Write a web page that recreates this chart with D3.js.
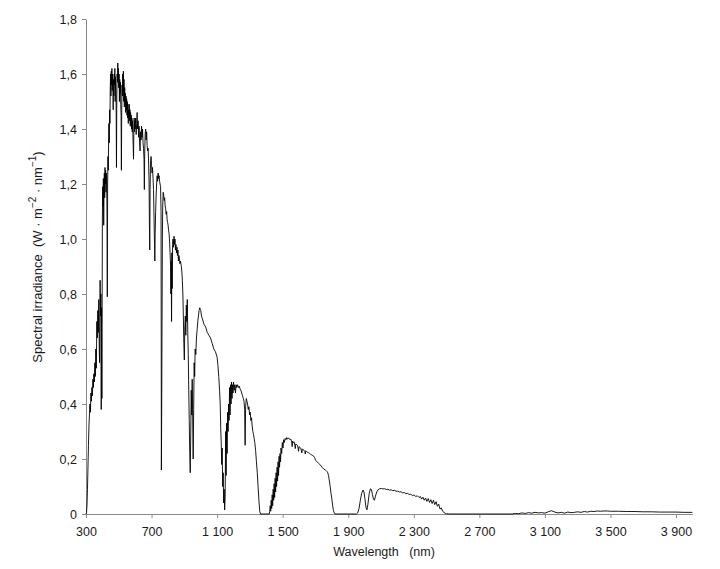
<!DOCTYPE html>
<html>
<head>
<meta charset="utf-8">
<script src="https://cdn.jsdelivr.net/npm/d3@7"></script>
<style>
  html, body { margin: 0; padding: 0; background: #fff; }
  svg { display: block; font-family: "Liberation Sans", Arial, sans-serif; }
</style>
</head>
<body>
<svg id="chart" width="720" height="569"></svg>
<script>
// ---- data ----
const xTicks = [300, 700, 1100, 1500, 1900, 2300, 2700, 3100, 3500, 3900];
const yTicks = [0, 0.2, 0.4, 0.6, 0.8, 1.0, 1.2, 1.4, 1.6, 1.8];
const xDomain = [300, 4000];
const yDomain = [0, 1.8];
const xTitle = "Wavelength   (nm)";

// UV + visible band [wavelength nm, irradiance W·m-2·nm-1]
const spectrumVisible = [
  [300,0],[303,0.005],[306,0.03],[309,0.09],[312,0.17],[315,0.25],[318,0.32],[321,0.36],[324,0.40],[327,0.37],
  [330,0.44],[333,0.41],[336,0.46],[339,0.43],[342,0.49],[345,0.46],[348,0.51],[351,0.48],[354,0.55],[357,0.50],
  [360,0.60],[363,0.53],[366,0.70],[369,0.64],[372,0.74],[375,0.66],[378,0.78],[381,0.60],[383,0.55],[386,0.85],
  [389,0.72],[391,0.80],[393,0.38],[395,0.75],[397,0.42],[400,1.08],[402,1.19],[404,1.12],[406,1.22],[408,1.05],
  [410,1.18],[412,1.24],[414,1.15],[416,1.26],[418,1.20],[420,1.25],[422,1.17],[424,1.24],[426,1.20],[428,1.12],
  [430,0.79],[432,1.20],[434,1.30],[436,1.25],[438,1.36],[440,1.42],[442,1.35],[444,1.47],[446,1.42],[448,1.55],
  [450,1.60],[452,1.52],[454,1.61],[456,1.56],[458,1.62],[460,1.54],[462,1.60],[464,1.55],[466,1.47],[468,1.58],
  [470,1.52],[472,1.60],[474,1.56],[476,1.62],[478,1.50],[480,1.59],[482,1.54],[484,1.48],[486,1.26],[488,1.52],
  [490,1.60],[492,1.57],[494,1.64],[496,1.58],[498,1.62],[500,1.55],[502,1.60],[504,1.50],[506,1.58],[508,1.53],
  [510,1.57],[512,1.49],[514,1.45],[516,1.25],[518,1.47],[520,1.56],[522,1.52],[524,1.60],[526,1.54],[528,1.61],
  [530,1.50],[532,1.58],[534,1.48],[536,1.55],[538,1.50],[540,1.53],[542,1.46],[544,1.52],[546,1.47],[548,1.51],
  [550,1.45],[552,1.50],[554,1.44],[556,1.49],[558,1.42],[560,1.47],[562,1.44],[564,1.49],[566,1.43],[568,1.47],
  [570,1.41],[572,1.46],[574,1.42],[576,1.45],[578,1.40],[580,1.44],[582,1.39],[584,1.43],[586,1.38],[588,1.34],
  [590,1.29],[592,1.40],[594,1.44],[596,1.39],[598,1.43],[600,1.40],[603,1.44],[606,1.38],[609,1.42],[612,1.46],
  [615,1.40],[618,1.43],[621,1.37],[624,1.41],[627,1.35],[630,1.32],[633,1.39],[636,1.36],[639,1.41],[642,1.37],
  [645,1.40],[648,1.35],[651,1.33],[654,1.29],[656,1.18],[658,1.31],[661,1.38],[664,1.40],[667,1.36],[670,1.39],
  [673,1.34],[676,1.32],[679,1.33],[682,1.28],[685,1.20],[687,1.05],[689,0.96],[691,1.18],[694,1.28],[697,1.30],
  [700,1.27],[703,1.24],[706,1.26],[709,1.22],[712,1.18],[715,1.08],[718,0.98],[720,0.92],[722,1.02],[725,1.10],
  [728,1.16],[731,1.20],[734,1.23],[737,1.21],[740,1.24],[743,1.22],[746,1.23],[749,1.21],[752,1.20],[755,1.19],
  [758,1.10],[760,0.16],[762,0.40],[764,0.70],[766,1.00],[768,1.12],[771,1.17],[774,1.16],[777,1.14],[780,1.15],
  [783,1.12],[786,1.11],[789,1.09],[792,1.10],[795,1.07],[798,1.06],[801,1.05],[804,1.03],[807,1.02],[810,0.99],
  [813,0.95],[816,0.90],[818,0.80],[820,0.92],[822,0.70],[824,0.95],[826,0.82],[828,0.98],[831,1.00],[834,0.97],
  [837,1.01],[840,0.98],[843,1.00],[846,0.96],[849,0.98],[852,0.95],[855,0.97],[858,0.94],[861,0.96],[864,0.92],
  [867,0.94],[870,0.93],[873,0.91],[876,0.92],[879,0.91],[882,0.90],[885,0.88],[888,0.85],[891,0.80],[894,0.72],
  [897,0.62],[900,0.56],[903,0.68],[906,0.72],[909,0.65],[912,0.76],[915,0.70],[918,0.78],[921,0.66],[924,0.58],
  [927,0.45],[930,0.34],[933,0.22],[936,0.15],[939,0.28],[942,0.45],[945,0.36],[948,0.49],[951,0.35],[954,0.20],
  [957,0.38],[960,0.55],[963,0.50],[966,0.60],[970,0.58],[974,0.64],[978,0.67],[982,0.70],[986,0.72],[990,0.74],
  [994,0.75],[997,0.745]
];

// near infrared band
const spectrumNearIR = [
  [1000,0.74],[1005,0.72],[1010,0.71],[1020,0.69],[1030,0.68],[1040,0.66],[1050,0.65],[1060,0.64],[1070,0.62],
  [1080,0.60],[1090,0.59],[1100,0.57],[1105,0.54],[1110,0.50],[1115,0.45],[1119,0.40],[1122,0.31],[1125,0.26],
  [1128,0.18],[1131,0.24],[1134,0.10],[1137,0.15],[1140,0.04],[1143,0.09],[1146,0.015],[1149,0.06],[1152,0.30],
  [1155,0.14],[1158,0.33],[1161,0.22],[1164,0.37],[1167,0.30],[1170,0.40],[1173,0.34],[1176,0.46],[1179,0.36],
  [1182,0.47],[1185,0.40],[1188,0.48],[1191,0.42],[1194,0.47],[1197,0.44],[1200,0.48],[1204,0.45],[1208,0.47],
  [1212,0.44],[1216,0.47],[1220,0.46],[1225,0.47],[1230,0.46],[1235,0.465],[1240,0.455],[1245,0.45],[1250,0.44],
  [1255,0.43],[1260,0.42],[1264,0.41],[1268,0.38],[1271,0.25],[1274,0.39],[1278,0.42],[1282,0.41],[1286,0.40],
  [1290,0.38],[1294,0.39],[1298,0.36],[1302,0.37],[1306,0.34],[1310,0.35],[1314,0.32],[1318,0.30],[1322,0.29],
  [1326,0.275],[1330,0.26],[1335,0.23],[1340,0.19],[1345,0.15],[1350,0.10],[1355,0.05],[1360,0.01],[1365,0],
  [1418,0],[1421,0.01],[1424,0.03],[1427,0.01],[1430,0.05],[1433,0.02],[1436,0.07],[1439,0.03],[1442,0.09],
  [1445,0.05],[1448,0.11],[1451,0.06],[1454,0.13],[1457,0.08],[1460,0.15],[1463,0.10],[1466,0.17],[1469,0.12],
  [1472,0.19],[1475,0.14],[1478,0.21],[1481,0.17],[1484,0.22],[1487,0.19],[1490,0.24],[1494,0.22],[1498,0.26],
  [1502,0.24],[1506,0.27],[1510,0.26],[1515,0.275],[1520,0.27],[1525,0.278],[1530,0.272],[1535,0.276],
  [1540,0.275],[1545,0.27],[1550,0.272],[1555,0.262],[1558,0.245],[1561,0.265],[1565,0.26],[1570,0.262],
  [1574,0.25],[1577,0.238],[1580,0.255],[1585,0.252],[1590,0.25],[1594,0.24],[1597,0.228],[1600,0.245],
  [1605,0.242],[1610,0.24],[1614,0.232],[1617,0.222],[1620,0.236],[1625,0.234],[1630,0.232],[1635,0.228],
  [1638,0.218],[1641,0.23],[1645,0.228],[1650,0.225],[1655,0.224],[1660,0.222],[1665,0.22],[1670,0.218],
  [1675,0.215],[1680,0.214],[1685,0.212],[1690,0.21],[1695,0.205],[1700,0.196],[1710,0.19],[1720,0.184],
  [1730,0.178],[1740,0.17],[1750,0.164],[1760,0.16],[1765,0.158],[1770,0.155],[1775,0.15],[1780,0.14],
  [1785,0.12],[1790,0.10],[1795,0.075],[1800,0.055],[1805,0.03],[1810,0.012],[1815,0.004],[1820,0]
];

// mid infrared band
const spectrumMidIR = [
  [1950,0],[1958,0.004],[1966,0.02],[1974,0.05],[1982,0.075],[1990,0.087],[1996,0.08],[2002,0.055],[2008,0.025],
  [2014,0.015],[2020,0.035],[2028,0.075],[2036,0.092],[2042,0.088],[2048,0.07],[2054,0.055],[2060,0.05],
  [2066,0.065],[2074,0.08],[2082,0.088],[2092,0.092],[2102,0.093],[2112,0.091],[2122,0.092],[2132,0.089],
  [2142,0.09],[2152,0.087],[2162,0.088],[2172,0.085],[2182,0.086],[2192,0.083],[2202,0.083],[2212,0.08],
  [2222,0.081],[2232,0.077],[2242,0.078],[2252,0.074],[2262,0.075],[2272,0.071],[2282,0.072],[2292,0.067],
  [2302,0.069],[2312,0.064],[2322,0.066],[2332,0.06],[2340,0.064],[2348,0.054],[2356,0.061],[2364,0.05],
  [2372,0.058],[2380,0.046],[2388,0.056],[2396,0.042],[2404,0.052],[2412,0.038],[2420,0.05],[2428,0.034],
  [2436,0.045],[2444,0.028],[2452,0.036],[2460,0.018],[2468,0.022],[2476,0.01],[2484,0.006],[2492,0.002],
  [2500,0.001],[2520,0],[2900,0],[2920,0.002],[2940,0.001],[2960,0.004],[2980,0.002],[3000,0.005],[3020,0.003],
  [3040,0.006],[3060,0.004],[3080,0.005],[3100,0.003],[3120,0.008],[3140,0.012],[3160,0.007],[3180,0.004],
  [3200,0.006],[3220,0.003],[3240,0.007],[3260,0.005],[3280,0.006],[3300,0.008],[3320,0.006],[3340,0.009],
  [3360,0.007],[3380,0.01],[3400,0.009],[3420,0.011],[3440,0.01],[3460,0.011],[3480,0.011],[3500,0.01],
  [3550,0.01],[3600,0.009],[3650,0.009],[3700,0.008],[3750,0.008],[3800,0.007],[3850,0.007],[3900,0.007],
  [3950,0.006],[4000,0.006]
];

const spectrum = spectrumVisible.concat(spectrumNearIR, spectrumMidIR);

// ---- drawing ----
const svg = d3.select("#chart");
const x = d3.scaleLinear().domain(xDomain).range([86, 692.4]);
const y = d3.scaleLinear().domain(yDomain).range([514, 19]);

const fmtX = d => d3.format(",")(d).replace(/,/g, " ");
const fmtY = d => (d === 0 ? "0" : d3.format(".1f")(d).replace(".", ","));

const axisColor = "#8a8a8a";
const textColor = "#1a1a1a";
const font = '"Liberation Sans", Arial, sans-serif';

// x axis
const gx = svg.append("g")
  .attr("transform", `translate(0,${y(0)})`)
  .call(d3.axisBottom(x).tickValues(xTicks).tickSize(4).tickSizeOuter(0).tickPadding(9).tickFormat(fmtX));
gx.select(".domain").attr("stroke", axisColor);
gx.selectAll(".tick line").attr("stroke", axisColor);
gx.selectAll(".tick text").attr("fill", textColor).style("font-size", "12.5px").style("font-family", font);

// y axis
const gy = svg.append("g")
  .attr("transform", `translate(${x(300)},0)`)
  .call(d3.axisLeft(y).tickValues(yTicks).tickSize(4).tickSizeOuter(0).tickPadding(5).tickFormat(fmtY));
gy.select(".domain").attr("stroke", axisColor);
gy.selectAll(".tick line").attr("stroke", axisColor);
gy.selectAll(".tick text").attr("fill", textColor).style("font-size", "12.5px").style("font-family", font);

// spectrum line
const line = d3.line().x(d => x(d[0])).y(d => y(d[1]));
svg.append("path")
  .datum(spectrum)
  .attr("fill", "none")
  .attr("stroke", "#000")
  .attr("stroke-width", 0.9)
  .attr("stroke-linejoin", "round")
  .attr("d", line);

// x title
svg.append("text")
  .attr("x", 384).attr("y", 556)
  .attr("text-anchor", "middle")
  .attr("fill", textColor)
  .style("font-size", "12.5px")
  .style("white-space", "pre")
  .text(xTitle);

// y title with superscripts
const yt = svg.append("text")
  .attr("transform", "translate(42,257) rotate(-90)")
  .attr("text-anchor", "middle")
  .attr("fill", textColor)
  .style("font-size", "13px")
  .style("white-space", "pre");
yt.append("tspan").text("Spectral irradiance  (W \u00b7 m");
yt.append("tspan").attr("dy", -6).style("font-size", "10px").text("\u22122");
yt.append("tspan").attr("dy", 6).text(" \u00b7 nm");
yt.append("tspan").attr("dy", -6).style("font-size", "10px").text("\u22121");
yt.append("tspan").attr("dy", 6).text(")");
</script>
</body>
</html>
